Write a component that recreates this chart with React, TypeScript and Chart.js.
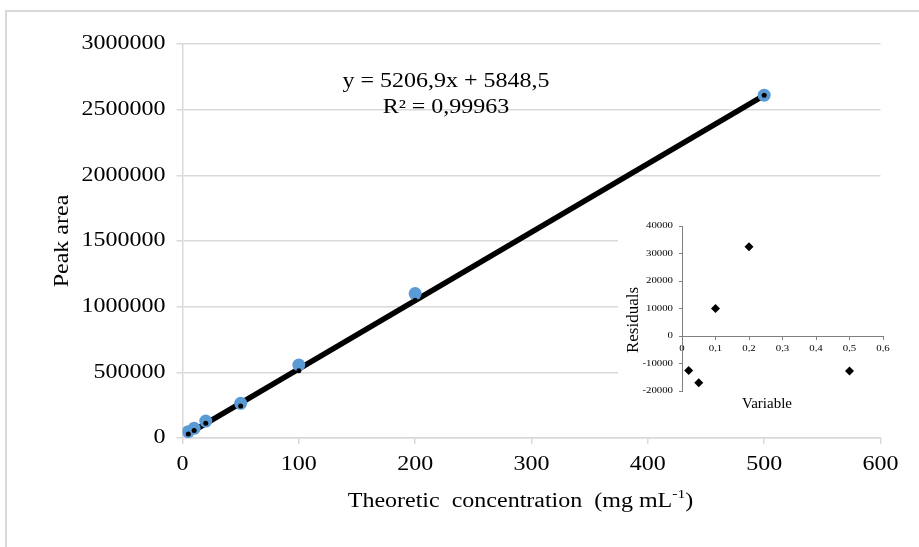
import React, { useEffect, useRef } from 'react';
import { Chart, registerables } from 'chart.js';

Chart.register(...registerables);

// ---- data ----
const concentrations = [5, 10, 20, 50, 100, 200, 500];
const peakAreas = [48000, 74000, 129000, 264000, 556000, 1100000, 2610000];
const predictedAreas = [31000, 58000, 112000, 244000, 512000, 1048000, 2609000];
const trendX = [5, 500];
const trendY = [31000, 2609000];
const equationLines = ['y = 5206,9x + 5848,5', 'R\u00B2 = 0,99963'];
const residualX = [0.02, 0.05, 0.1, 0.2, 0.5];
const residualY = [-12500, -17000, 10000, 32500, -12700];

const SERIF = "'Liberation Serif', 'Times New Roman', serif";

function stretchText(ctx: any, sx: number) {
  if (ctx.__raw) return;
  const raw = ctx.fillText.bind(ctx);
  ctx.__raw = raw;
  ctx.fillText = (text: string, x: number, y: number) => {
    ctx.save();
    ctx.translate(x, y);
    ctx.scale(sx, 1);
    raw(text, 0, 0);
    ctx.restore();
  };
}

const mainTextPlugin = {
  id: 'mainText',
  afterDraw(chart: any) {
    const ctx = chart.ctx;
    ctx.save();
    ctx.fillStyle = '#000';
    ctx.font = `20px ${SERIF}`;
    ctx.textAlign = 'center';
    ctx.textBaseline = 'middle';
    ctx.fillText(equationLines[0], 446, 82);
    ctx.fillText(equationLines[1], 446, 108);

    // x-axis title with superscript
    const sx = 1.2;
    const p1 = 'Theoretic  concentration  (mg mL';
    const sup = '-1';
    const p3 = ')';
    ctx.font = `20px ${SERIF}`;
    const w1 = ctx.measureText(p1).width * sx;
    const w3 = ctx.measureText(p3).width * sx;
    ctx.font = `13px ${SERIF}`;
    const w2 = ctx.measureText(sup).width * sx;
    const total = w1 + w2 + w3;
    let x = 520.5 - total / 2;
    const y = 502;
    ctx.textAlign = 'left';
    ctx.font = `20px ${SERIF}`;
    ctx.fillText(p1, x, y);
    x += w1;
    ctx.font = `13px ${SERIF}`;
    ctx.fillText(sup, x, y - 7);
    x += w2;
    ctx.font = `20px ${SERIF}`;
    ctx.fillText(p3, x, y);
    ctx.restore();
  },
};

const insetTextPlugin = {
  id: 'insetText',
  afterDraw(chart: any) {
    const ctx = chart.ctx;
    const raw = ctx.__raw || ctx.fillText.bind(ctx);
    ctx.save();
    ctx.fillStyle = '#000';
    ctx.textAlign = 'center';
    ctx.textBaseline = 'middle';
    ctx.font = `15px ${SERIF}`;
    raw('Variable', 149, 199);
    ctx.translate(16, 115);
    ctx.rotate(-Math.PI / 2);
    ctx.font = `17px ${SERIF}`;
    raw('Residuals', 0, 0);
    ctx.restore();
  },
};

export default function App() {
  const mainRef = useRef<HTMLCanvasElement>(null);
  const insetRef = useRef<HTMLCanvasElement>(null);

  useEffect(() => {
    const mc = mainRef.current!;
    const ic = insetRef.current!;
    stretchText(mc.getContext('2d'), 1.2);
    stretchText(ic.getContext('2d'), 1.35);

    const tickFont = { family: SERIF, size: 20 };

    const main = new Chart(mc, {
      type: 'scatter',
      data: {
        datasets: [
          {
            label: 'Predicted',
            data: concentrations.map((x, i) => ({ x, y: predictedAreas[i] })),
            pointRadius: 2.5,
            pointBackgroundColor: '#000',
            pointBorderWidth: 0,
            showLine: false,
          },
          {
            label: 'Peak area',
            data: concentrations.map((x, i) => ({ x, y: peakAreas[i] })),
            pointRadius: 6.5,
            pointBackgroundColor: '#5b9bd5',
            pointBorderWidth: 0,
            showLine: false,
          },
          {
            label: 'Linear',
            data: trendX.map((x, i) => ({ x, y: trendY[i] })),
            showLine: true,
            borderColor: '#000',
            borderWidth: 5.5,
            pointRadius: 0,
          },
        ],
      },
      options: {
        responsive: false,
        animation: false,
        events: [],
        layout: { padding: { left: 0, top: 44, right: 38.5, bottom: 0 } },
        plugins: { legend: { display: false }, tooltip: { enabled: false } },
        scales: {
          x: {
            type: 'linear',
            min: 0,
            max: 600,
            ticks: {
              stepSize: 100,
              font: tickFont,
              color: '#000',
              padding: 9,
              maxRotation: 0,
              autoSkip: false,
              callback: (v: any) => String(v),
            },
            grid: { drawOnChartArea: false, drawTicks: true, tickLength: 6, color: '#d9d9d9', lineWidth: 1.5 },
            border: { color: '#d9d9d9', width: 1.5 },
            afterFit: (s: any) => { s.height = 109; },
          },
          y: {
            type: 'linear',
            min: 0,
            max: 3000000,
            ticks: {
              stepSize: 500000,
              font: tickFont,
              color: '#000',
              padding: 11,
              autoSkip: false,
              callback: (v: any) => String(v),
            },
            grid: { color: '#d9d9d9', tickLength: 6, lineWidth: 1.5 },
            border: { color: '#d9d9d9', width: 1.5 },
            title: {
              display: true,
              text: 'Peak area',
              font: { family: SERIF, size: 20 },
              color: '#000',
              padding: { top: 51, bottom: 0 },
            },
            afterFit: (s: any) => { s.width = 182.5; },
          },
        },
      },
      plugins: [mainTextPlugin],
    } as any);

    const insetFont = { family: SERIF, size: 8 };
    const inset = new Chart(ic, {
      type: 'scatter',
      data: {
        datasets: [
          {
            label: 'Residuals',
            data: residualX.map((x, i) => ({ x, y: residualY[i] })),
            pointStyle: 'rectRot',
            pointRadius: 4.5,
            pointBackgroundColor: '#000',
            pointBorderColor: '#000',
            pointBorderWidth: 0,
          },
        ],
      },
      options: {
        responsive: false,
        animation: false,
        events: [],
        layout: { padding: { left: 0, top: 21, right: 17, bottom: 29 } },
        plugins: { legend: { display: false }, tooltip: { enabled: false } },
        scales: {
          x: {
            type: 'linear',
            position: { y: 0 },
            min: 0,
            max: 0.6,
            ticks: {
              stepSize: 0.1,
              font: insetFont,
              color: '#000',
              padding: 5,
              maxRotation: 0,
              autoSkip: false,
              callback: (v: any) => (Number(v) === 0 ? '0' : Number(v).toFixed(1).replace('.', ',')),
            },
            grid: { drawOnChartArea: false, drawTicks: true, tickLength: 3, color: '#7f7f7f' },
            border: { color: '#7f7f7f', width: 1 },
          },
          y: {
            type: 'linear',
            min: -20000,
            max: 40000,
            ticks: {
              stepSize: 10000,
              font: insetFont,
              color: '#000',
              padding: 6,
              autoSkip: false,
              callback: (v: any) => String(v),
            },
            grid: { drawOnChartArea: false, drawTicks: true, tickLength: 3, color: '#7f7f7f' },
            border: { color: '#7f7f7f', width: 1 },
            afterFit: (s: any) => { s.width = 64; },
          },
        },
      },
      plugins: [insetTextPlugin],
    } as any);

    return () => {
      main.destroy();
      inset.destroy();
    };
  }, []);

  return (
    <div style={{ position: 'absolute', left: 0, top: 0, width: 919, height: 547, overflow: 'hidden', background: '#fff' }}>
      <div
        style={{
          position: 'absolute',
          left: 5,
          top: 10,
          width: 940,
          height: 570,
          border: '2px solid #d9d9d9',
          boxSizing: 'border-box',
        }}
      />
      <canvas ref={mainRef} width={919} height={547} style={{ position: 'absolute', left: 0, top: 0 }} />
      <canvas ref={insetRef} width={282} height={215} style={{ position: 'absolute', left: 618, top: 205, background: '#fff' }} />
    </div>
  );
}
